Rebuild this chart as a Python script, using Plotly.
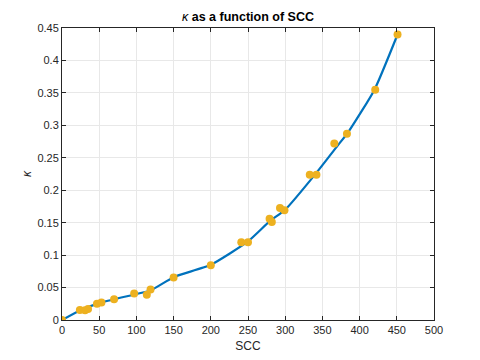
import plotly.graph_objects as go

# Measured points (SCC, kappa)
scc_pts = [0, 24, 31, 35, 47, 53, 70, 97, 114, 119, 150, 200, 241, 250, 279, 282, 293, 299, 333, 342, 366, 383, 421, 451]
kappa_pts = [0, 0.0155, 0.015, 0.017, 0.025, 0.027, 0.032, 0.041, 0.039, 0.047, 0.0655, 0.0845,
             0.120, 0.120, 0.156, 0.151, 0.1725, 0.169, 0.224, 0.224, 0.272, 0.287, 0.355, 0.440]

# Fitted curve (SCC, kappa)
scc_fit = [0, 25, 50, 100, 120, 150, 200, 250, 280, 300, 340, 370, 385, 420, 451]
kappa_fit = [0, 0.015, 0.026, 0.040, 0.046, 0.066, 0.085, 0.121, 0.153, 0.170, 0.224, 0.268, 0.290, 0.355, 0.440]

x_ticks = [0, 50, 100, 150, 200, 250, 300, 350, 400, 450, 500]
y_ticks = [0, 0.05, 0.1, 0.15, 0.2, 0.25, 0.3, 0.35, 0.4, 0.45]
y_tick_text = ["0", "0.05", "0.1", "0.15", "0.2", "0.25", "0.3", "0.35", "0.4", "0.45"]

FONT = "Liberation Sans, Arial"

fig = go.Figure()
fig.add_trace(go.Scatter(x=scc_fit, y=kappa_fit, mode="lines",
                         line=dict(color="#0072BD", width=2.2, shape="spline", smoothing=0.5),
                         showlegend=False, hoverinfo="skip"))
fig.add_trace(go.Scatter(x=scc_pts, y=kappa_pts, mode="markers",
                         marker=dict(color="#EDB120", size=8, line=dict(width=0)),
                         showlegend=False))

axis_common = dict(showgrid=True, gridcolor="#e8e8e8", gridwidth=1,
                   showline=True, linecolor="#262626", linewidth=1, mirror="ticks",
                   ticks="inside", ticklen=4, tickcolor="#262626", zeroline=False,
                   automargin=False,
                   tickfont=dict(family=FONT, size=11, color="#262626"))

fig.update_layout(
    width=480, height=360,
    margin=dict(l=62, r=46, t=28, b=40),
    paper_bgcolor="white", plot_bgcolor="white",
    title=dict(text="<i>κ</i><b> as a function of SCC</b>", xref="paper", x=0.5, xanchor="center",
               y=1 - 17 / 360, yanchor="middle", automargin=False,
               font=dict(family=FONT, size=12.5, color="#000000")),
    xaxis=dict(range=[0, 500], tickvals=x_ticks,
               title=dict(text="SCC", standoff=6,
                          font=dict(family=FONT, size=12, color="#262626")),
               **axis_common),
    yaxis=dict(range=[0, 0.45], tickvals=y_ticks, ticktext=y_tick_text,
               title=dict(text="<i>κ</i>", standoff=3,
                          font=dict(family=FONT, size=12, color="#262626")),
               **axis_common),
)

fig.write_html("out.html", config={"displayModeBar": False, "staticPlot": True})
with open("out.html", "r", encoding="utf-8") as f:
    html = f.read()
html = html.replace("<head>", "<head><style>html,body{margin:0;padding:0;}</style>", 1)
with open("out.html", "w", encoding="utf-8") as f:
    f.write(html)
